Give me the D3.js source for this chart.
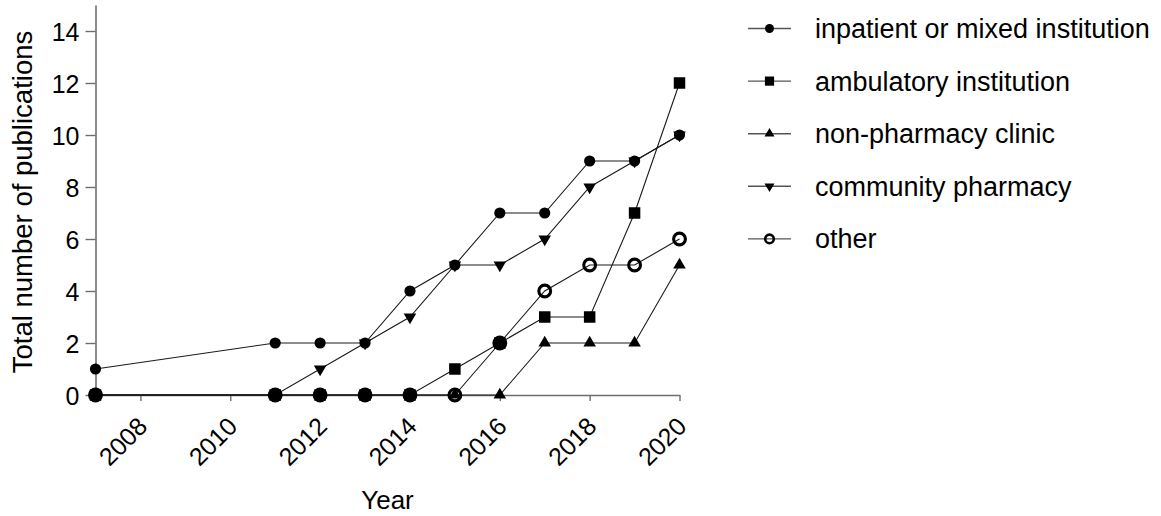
<!DOCTYPE html>
<html>
<head>
<meta charset="utf-8">
<script src="https://cdn.jsdelivr.net/npm/d3@7"></script>
<style>
  body { margin: 0; background: #fff; }
  svg { display: block; font-family: "Liberation Sans", Arial, sans-serif; }
</style>
</head>
<body>
<svg id="chart" width="1161" height="516"></svg>
<script>
// Publication counts per year and setting
const years       = [2007, 2011, 2012, 2013, 2014, 2015, 2016, 2017, 2018, 2019, 2020];
const inpatient   = [1, 2, 2, 2, 4, 5, 7, 7, 9, 9, 10];
const ambulatory  = [0, 0, 0, 0, 0, 1, 2, 3, 3, 7, 12];
const nonPharmacy = [0, 0, 0, 0, 0, 0, 0, 2, 2, 2, 5];
const community   = [0, 0, 1, 2, 3, 5, 5, 6, 8, 9, 10];
const other       = [0, 0, 0, 0, 0, 0, 2, 4, 5, 5, 6];

const seriesNames = [
  "inpatient or mixed institution",
  "ambulatory institution",
  "non-pharmacy clinic",
  "community pharmacy",
  "other"
];
const seriesValues = [inpatient, ambulatory, nonPharmacy, community, other];
const seriesShapes = ["circle", "square", "triangleUp", "triangleDown", "ring"];

const xTickValues = [2008, 2010, 2012, 2014, 2016, 2018, 2020];
const yTickValues = [0, 2, 4, 6, 8, 10, 12, 14];

const xTitle = "Year";
const yTitle = "Total number of publications";

// ---- layout ----
const svg = d3.select("#chart");
const axisColor = "#6e6e6e";
const lineColor = "#1a1a1a";

const x = d3.scaleLinear().domain([2007, 2020]).range([95.5, 679.5]);
const y = d3.scaleLinear().domain([0, 15]).range([395, 5]);

// marker builder: plot size (big) or legend size (small)
function marker(sel, shape, small) {
  const k = small ? 0.8 : 1;
  if (shape === "ring") {
    sel.append("circle")
      .attr("r", (small ? 4.3 : 5.9))
      .attr("fill", "none")
      .attr("stroke", "#000")
      .attr("stroke-width", small ? 2.6 : 3.1);
    return;
  }
  let type, size, rot = 0;
  if (shape === "circle") { type = d3.symbolCircle; size = Math.PI * 5.6 * 5.6; }
  else if (shape === "square") { type = d3.symbolSquare; size = 11.5 * 11.5; }
  else if (shape === "triangleUp") { type = d3.symbolTriangle; size = 68; }
  else { type = d3.symbolTriangle; size = 68; rot = 180; }
  sel.append("path")
    .attr("d", d3.symbol().type(type).size(size * k * k)())
    .attr("transform", rot ? `rotate(${rot})` : null)
    .attr("fill", "#000");
}

// ---- axes ----
const yAxis = svg.append("g")
  .attr("transform", `translate(${x(2007)},0)`)
  .call(d3.axisLeft(y).tickValues(yTickValues).tickSize(10).tickSizeOuter(0).tickPadding(6));
yAxis.select(".domain").attr("stroke", axisColor).attr("stroke-width", 1.6);
yAxis.selectAll(".tick line").attr("stroke", axisColor).attr("stroke-width", 1.4);
yAxis.selectAll(".tick text")
  .attr("fill", "#000")
  .style("font-size", "25px")
  .attr("dy", "0.36em");

const xAxis = svg.append("g")
  .attr("transform", `translate(0,${y(0)})`)
  .call(d3.axisBottom(x).tickValues(xTickValues).tickSize(6).tickSizeOuter(0));
xAxis.select(".domain").attr("stroke", axisColor).attr("stroke-width", 1.6);
xAxis.selectAll(".tick line").attr("stroke", axisColor).attr("stroke-width", 1.4);
xAxis.selectAll(".tick text")
  .attr("fill", "#000")
  .style("font-size", "25px")
  .style("text-anchor", "end")
  .attr("x", 0).attr("y", 0).attr("dy", 0)
  .attr("transform", "translate(8,33) rotate(-45)")
  .text(d => d);

svg.selectAll("g").attr("font-family", null).attr("font-size", null);

// axis titles
svg.append("text")
  .attr("transform", `translate(32,${(y(0) + y(15)) / 2 + 2}) rotate(-90)`)
  .attr("text-anchor", "middle")
  .style("font-size", "27.5px")
  .text(yTitle);

svg.append("text")
  .attr("x", (x(2007) + x(2020)) / 2)
  .attr("y", 509)
  .attr("text-anchor", "middle")
  .style("font-size", "26px")
  .text(xTitle);

// ---- series ----
const line = d3.line().x(d => x(d.year)).y(d => y(d.value));
const data = seriesValues.map(vals => years.map((yr, i) => ({ year: yr, value: vals[i] })));

svg.append("g").selectAll("path")
  .data(data)
  .join("path")
  .attr("d", line)
  .attr("fill", "none")
  .attr("stroke", lineColor)
  .attr("stroke-width", 1.1);

data.forEach((pts, si) => {
  const g = svg.append("g");
  pts.forEach(p => {
    const m = g.append("g").attr("transform", `translate(${x(p.year)},${y(p.value)})`);
    marker(m, seriesShapes[si], false);
  });
});

// ---- legend ----
const legend = svg.append("g").attr("transform", "translate(748,28.5)");
seriesNames.forEach((name, i) => {
  const row = legend.append("g").attr("transform", `translate(0,${i * 52.6})`);
  row.append("line")
    .attr("x1", 0).attr("x2", 43)
    .attr("stroke", "#555").attr("stroke-width", 1.4);
  const m = row.append("g").attr("transform", "translate(21.5,0)");
  marker(m, seriesShapes[i], true);
  row.append("text")
    .attr("x", 67)
    .attr("dy", "0.35em")
    .style("font-size", "27px")
    .text(name);
});
</script>
</body>
</html>
